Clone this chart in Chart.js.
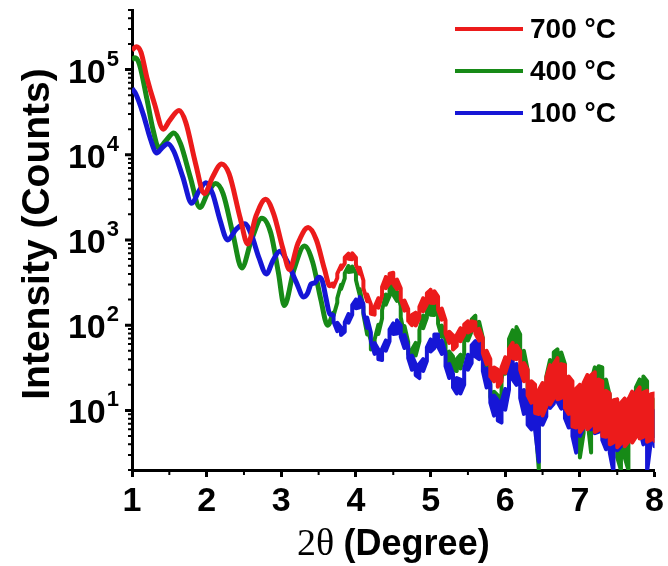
<!DOCTYPE html>
<html>
<head>
<meta charset="utf-8">
<script src="https://cdn.jsdelivr.net/npm/chart.js@4.4.1/dist/chart.umd.min.js"></script>
<style>
  body { margin: 0; background: #fff; }
</style>
</head>
<body>
<canvas id="xrr" width="668" height="566"></canvas>
<script>
// low-angle part, smooth fringes (each curve has its own 2θ points)
const red_x = [1.00, 1.06, 1.12, 1.20, 1.30, 1.42, 1.50, 1.63, 1.72, 1.85, 1.97, 2.08, 2.20, 2.30, 2.45, 2.55, 2.66, 2.79, 2.90, 3.02, 3.11, 3.22, 3.36, 3.47, 3.58, 3.65];
const red_y = [170000, 185000, 160000, 80000, 40000, 20000, 25000, 33000, 24000, 8000, 3500, 5500, 7800, 6000, 1800, 900, 1900, 3000, 2000, 800, 450, 900, 1400, 1000, 450, 290];

const green_x = [1.00, 1.04, 1.10, 1.20, 1.28, 1.36, 1.45, 1.56, 1.65, 1.78, 1.91, 2.01, 2.12, 2.22, 2.35, 2.47, 2.60, 2.74, 2.86, 2.96, 3.04, 3.17, 3.31, 3.42, 3.53, 3.62];
const green_y = [130000, 138000, 115000, 45000, 20000, 12000, 14500, 18000, 13500, 5500, 2400, 3500, 4600, 3500, 1200, 470, 1000, 1800, 1200, 420, 170, 450, 850, 550, 200, 100];

const blue_x = [1.00, 1.05, 1.15, 1.25, 1.33, 1.40, 1.48, 1.56, 1.68, 1.80, 1.90, 1.99, 2.08, 2.18, 2.28, 2.40, 2.51, 2.60, 2.70, 2.80, 2.89, 2.98, 3.08, 3.20, 3.30, 3.35, 3.40, 3.45, 3.50, 3.55, 3.60, 3.65];
const blue_y = [60000, 52000, 30000, 15000, 10500, 12000, 13500, 11000, 5500, 2700, 3800, 4700, 3500, 1700, 1000, 1350, 1550, 1150, 620, 400, 580, 740, 560, 320, 215, 235, 305, 315, 365, 330, 205, 135];

// high-angle part is noisy: upper and lower edge of each band, read on a common 2θ grid
const fine_x = [
  3.70, 3.75, 3.80, 3.85, 3.90, 3.95,
  4.00, 4.05, 4.10, 4.15, 4.20, 4.25, 4.30, 4.35, 4.40, 4.45,
  4.50, 4.55, 4.60, 4.65, 4.70, 4.75, 4.80, 4.85, 4.90, 4.95,
  5.00, 5.05, 5.10, 5.15, 5.20, 5.25, 5.30, 5.35, 5.40, 5.45,
  5.50, 5.55, 5.60, 5.65, 5.70, 5.75, 5.80, 5.85, 5.90, 5.95,
  6.00, 6.05, 6.10, 6.15, 6.20, 6.25, 6.30, 6.35, 6.40, 6.45,
  6.50, 6.55, 6.60, 6.65, 6.70, 6.75, 6.80, 6.85, 6.90, 6.95,
  7.00, 7.05, 7.10, 7.15, 7.20, 7.25, 7.30, 7.35, 7.40, 7.45,
  7.50, 7.55, 7.60, 7.65, 7.70, 7.75, 7.80, 7.85, 7.90, 7.95,
  8.00
];
const red_hi = [
  309, 403, 501, 624, 692, 700,
  617, 473, 335, 229, 176, 164, 207, 282, 367, 403,
  412, 343, 272, 195, 155, 132, 140, 164, 207, 237,
  260, 251, 216, 157, 114, 84, 76, 77, 92, 102,
  111, 111, 108, 91, 70, 50, 40, 32, 30, 32,
  42, 53, 62, 58, 49, 36, 30, 22, 20, 17.4,
  21, 24.5, 34, 35, 41, 35, 34, 25, 22, 18,
  20, 21, 26, 26, 28, 23, 22, 17, 15.8, 13.2,
  13.5, 12.3, 13.8, 13.5, 16.6, 16.2, 18.6, 16.2, 17, 15.5,
  15.8
];
const red_lo = [
  282, 359, 457, 531, 603, 596,
  513, 403, 272, 191, 136, 133, 160, 224, 272, 313,
  305, 266, 202, 148, 112, 100, 99, 122, 146, 176,
  184, 182, 153, 116, 80, 62, 52, 57, 65, 78,
  82, 86, 80, 66, 47, 35, 25, 22, 19, 22,
  27.5, 38, 41, 40, 30, 22, 15, 12.3, 9.3, 9.1,
  8.7, 11.2, 11.7, 14, 13.5, 14, 10.7, 9.1, 6.5, 6.3,
  5.6, 6.3, 6.0, 6.6, 5.6, 5.9, 5.0, 4.9, 4.0, 4.2,
  3.7, 4.1, 3.8, 4.3, 4.2, 4.9, 4.7, 4.9, 4.3, 4.5,
  4.4
];
const green_hi = [
  141, 207, 299, 407, 495, 490,
  407, 266, 164, 93, 66, 68, 101, 151, 229, 285,
  305, 248, 168, 98, 63, 52, 62, 88, 130, 164,
  188, 182, 146, 99, 67, 49, 43, 40, 45, 63,
  95, 117, 129, 110, 71, 40, 23, 16.6, 15, 23,
  41, 69, 87, 95, 78, 50, 30, 19.5, 14.8, 12.6,
  15.8, 25, 39, 48, 52, 48, 35, 23, 15.8, 13.2,
  11.2, 14.8, 20, 22, 32, 33, 32, 23, 15, 10.5,
  8.9, 8.9, 8.9, 10, 14, 18.6, 23, 25, 22, 15,
  12.6
];
const green_lo = [
  129, 184, 266, 355, 422, 427,
  339, 226, 133, 78, 52, 56, 79, 120, 174, 221,
  226, 193, 124, 74, 46, 40, 44, 65, 92, 122,
  133, 132, 104, 73, 47, 35, 30, 29, 31, 46,
  66, 85, 89, 76, 47, 25, 14.5, 9.5, 9.5, 13.8,
  27, 44, 58, 60, 47, 29, 16, 10.2, 7.4, 2.0,
  7.9, 12.6, 20, 28, 30, 26, 18, 10, 6.3, 4.8,
  2.8, 5.4, 7.9, 3.2, 18, 21, 18, 11.7, 6.6, 3.8,
  2.8, 2.0, 2.8, 2.0, 5.6, 9.3, 13.5, 15.8, 12.6, 6.6,
  5.0
];
const blue_hi = [
  132, 107, 94, 108, 135, 172,
  200, 214, 178, 123, 82, 62, 52, 53, 66, 89,
  105, 114, 99, 77, 56, 44, 35, 35, 40, 55,
  68, 78, 78, 66, 47, 35, 27, 24, 23, 31,
  45, 58, 65, 63, 46, 31, 20, 15, 13.2, 12.6,
  17.8, 30, 39, 35, 26, 17.4, 13.5, 12, 12.3, 11.2,
  13.5, 17, 21, 24, 25, 22, 17.8, 14.5, 11.5, 10,
  11.5, 15.8, 21, 15, 13.5, 14, 11.2, 8.9, 7.9, 7.9,
  8.5, 9.5, 10.7, 13.5, 15, 16.2, 15, 10, 8.9, 10.7,
  9.5
];
const blue_lo = [
  110, 85, 77, 84, 107, 133,
  158, 162, 141, 93, 64, 46, 40, 39, 50, 65,
  79, 80, 73, 54, 41, 30, 26, 24, 29, 38,
  49, 54, 56, 46, 33, 24, 18.6, 15.8, 15.8, 20,
  30, 36, 43, 40, 29, 18.6, 12.3, 8.7, 7.6, 7.2,
  10.2, 17.4, 23, 20, 14, 9.1, 6.8, 6.0, 5.9, 2.5,
  6.8, 8.5, 10.7, 12, 12.6, 10.5, 8.1, 6.3, 5.0, 3.2,
  5.0, 6.3, 7.1, 6.0, 5.4, 5.6, 4.5, 3.5, 3.2, 1.9,
  3.4, 3.8, 4.3, 5.4, 6.0, 6.5, 6.0, 4.0, 1.9, 4.3,
  3.8
];

const labels = ['700 °C', '400 °C', '100 °C'];
const colors = ['#ec1b1b', '#178a17', '#1616d6'];
const y_powers = [1, 2, 3, 4, 5];
const x_minor = [1.5, 2.5, 3.5, 4.5, 5.5, 6.5, 7.5];

const SANS = '"Liberation Sans", Arial, sans-serif';
const SERIF = '"Liberation Serif", "Times New Roman", serif';

function pairs(xs, ys) {
  return xs.map((x, i) => ({ x: x, y: ys[i] }));
}

// zigzag between the upper and lower edge so the noisy band is filled
function band(xs, hi, lo) {
  const out = [];
  xs.forEach((x, i) => {
    if (i % 2 === 0) { out.push({ x: x, y: hi[i] }, { x: x, y: lo[i] }); }
    else { out.push({ x: x, y: lo[i] }, { x: x, y: hi[i] }); }
  });
  return out;
}

function series(i, xs, ys, hi, lo, order) {
  const smooth = pairs(xs, ys).concat([{ x: fine_x[0], y: hi[0] }]);
  return [
    { label: labels[i], data: smooth, borderColor: colors[i], order: order,
      borderWidth: 5, cubicInterpolationMode: 'monotone' },
    { label: labels[i], band: true, data: band(fine_x, hi, lo), borderColor: colors[i], order: order,
      borderWidth: 4, tension: 0, borderJoinStyle: 'round', borderCapStyle: 'round' }
  ];
}

const decor = {
  id: 'decor',
  afterDraw(chart) {
    const { ctx, chartArea: a, scales: { x, y } } = chart;
    ctx.save();
    ctx.strokeStyle = '#000';
    ctx.fillStyle = '#000';

    // minor ticks
    ctx.lineWidth = 2;
    ctx.beginPath();
    x_minor.forEach(v => {
      const px = x.getPixelForValue(v);
      ctx.moveTo(px, a.bottom);
      ctx.lineTo(px, a.bottom + 5);
    });
    for (let p = 0; p <= 5; p++) {
      for (let m = 2; m <= 9; m++) {
        const v = m * Math.pow(10, p);
        if (v < y.min || v > y.max) continue;
        const py = y.getPixelForValue(v);
        ctx.moveTo(a.left, py);
        ctx.lineTo(a.left - 4, py);
      }
    }
    ctx.stroke();

    // major y ticks + 10^n labels
    ctx.lineWidth = 3;
    ctx.beginPath();
    y_powers.forEach(p => {
      const py = y.getPixelForValue(Math.pow(10, p));
      ctx.moveTo(a.left, py);
      ctx.lineTo(a.left - 7, py);
    });
    ctx.stroke();

    y_powers.forEach(p => {
      const py = y.getPixelForValue(Math.pow(10, p));
      const xr = 119;
      ctx.font = 'bold 22px ' + SANS;
      const ws = ctx.measureText(String(p)).width;
      ctx.textAlign = 'left';
      ctx.textBaseline = 'alphabetic';
      ctx.fillText(String(p), xr - ws, py - 4);
      ctx.font = 'bold 34px ' + SANS;
      ctx.textAlign = 'right';
      ctx.fillText('10', xr - ws - 1, py + 13);
    });

    // y title
    ctx.save();
    ctx.translate(38, (a.top + a.bottom) / 2 - 6);
    ctx.rotate(-Math.PI / 2);
    ctx.font = 'bold 39px ' + SANS;
    ctx.textAlign = 'center';
    ctx.textBaseline = 'middle';
    ctx.fillText('Intensity (Counts)', 0, 0);
    ctx.restore();

    // x title: serif "2θ" + bold sans "(Degree)"
    const t1 = '2θ ', t2 = '(Degree)';
    ctx.font = '38px ' + SERIF;
    const w1 = ctx.measureText(t1).width;
    ctx.font = 'bold 36px ' + SANS;
    const w2 = ctx.measureText(t2).width;
    const x0 = (a.left + a.right) / 2 - (w1 + w2) / 2;
    ctx.textAlign = 'left';
    ctx.textBaseline = 'alphabetic';
    ctx.font = '38px ' + SERIF;
    ctx.fillText(t1, x0, 555);
    ctx.font = 'bold 36px ' + SANS;
    ctx.fillText(t2, x0 + w1, 555);

    // legend
    chart.data.datasets.filter(ds => !ds.band).forEach((ds, i) => {
      const ly = 29 + i * 42;
      ctx.strokeStyle = ds.borderColor;
      ctx.lineWidth = 4;
      ctx.beginPath();
      ctx.moveTo(455, ly);
      ctx.lineTo(523, ly);
      ctx.stroke();
      ctx.fillStyle = '#000';
      ctx.font = 'bold 28px ' + SANS;
      ctx.textAlign = 'left';
      ctx.textBaseline = 'middle';
      ctx.fillText(ds.label, 530, ly + 1);
    });
    ctx.restore();
  }
};

const chart = new Chart(document.getElementById('xrr'), {
  type: 'line',
  data: {
    datasets: [].concat(
      series(0, red_x, red_y, red_hi, red_lo, 0),
      series(1, green_x, green_y, green_hi, green_lo, 2),
      series(2, blue_x, blue_y, blue_hi, blue_lo, 1)
    )
  },
  options: {
    responsive: false,
    animation: false,
    events: [],
    layout: { padding: { left: 0, right: 11, top: 10, bottom: 0 } },
    elements: {
      point: { radius: 0 },
      line: { fill: false }
    },
    scales: {
      x: {
        type: 'linear',
        min: 1,
        max: 8,
        ticks: {
          stepSize: 1,
          autoSkip: false,
          maxRotation: 0,
          padding: 4,
          color: '#000',
          font: { family: SANS, size: 34, weight: 'bold' }
        },
        grid: { drawOnChartArea: false, tickLength: 7, tickWidth: 3, tickColor: '#000' },
        border: { color: '#000', width: 3 },
        afterFit(s) { s.height = 96; }
      },
      y: {
        type: 'logarithmic',
        min: 2,
        max: 500000,
        ticks: { display: false },
        grid: { display: false },
        border: { color: '#000', width: 3 },
        afterFit(s) { s.width = 132; }
      }
    },
    plugins: {
      legend: { display: false },
      tooltip: { enabled: false }
    }
  },
  plugins: [decor]
});
</script>
</body>
</html>
